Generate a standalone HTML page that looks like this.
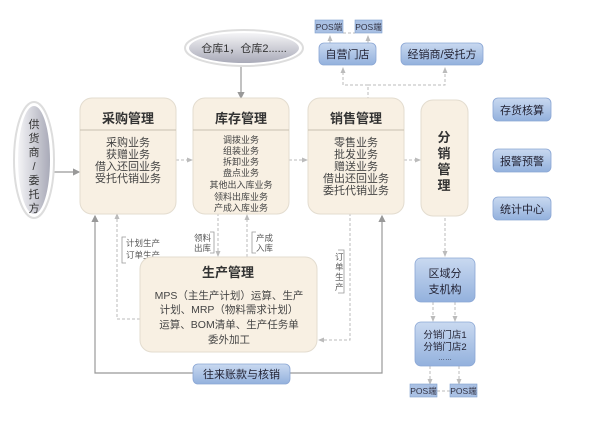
<!DOCTYPE html>
<html><head><meta charset="utf-8"><style>
body{margin:0;background:#fff;}
svg text{font-family:"Liberation Sans","Noto Sans CJK SC",sans-serif;}
</style></head><body>
<svg width="600" height="437" viewBox="0 0 600 437" xmlns="http://www.w3.org/2000/svg">
<defs>
<linearGradient id="bl" x1="0" y1="0" x2="0" y2="1"><stop offset="0" stop-color="#c9d9f0"/><stop offset="1" stop-color="#93b1dd"/></linearGradient>
<linearGradient id="el" x1="0" y1="0" x2="0" y2="1"><stop offset="0" stop-color="#f4f4f6"/><stop offset="1" stop-color="#a9aab8"/></linearGradient>
<linearGradient id="el2" x1="0" y1="0" x2="1" y2="0"><stop offset="0" stop-color="#f4f4f6"/><stop offset="1" stop-color="#a9aab8"/></linearGradient>
<marker id="ar" markerWidth="6" markerHeight="6" refX="5" refY="3" orient="auto"><path d="M0,0 L6,3 L0,6 z" fill="#999"/></marker>
<marker id="ad" markerWidth="6" markerHeight="6" refX="5" refY="3" orient="auto"><path d="M0,0.5 L6,3 L0,5.5 z" fill="#bbb"/></marker>
</defs>
<g fill="none" stroke="#bbb" stroke-width="1" stroke-dasharray="3,2">
<!-- top connectors -->
<line x1="343" y1="33" x2="355" y2="33"/>
<polyline points="368,100 368,85 343,85 343,68" marker-end="url(#ad)"/>
<polyline points="368,85 445,85 445,68" marker-end="url(#ad)"/>
<line x1="330" y1="43" x2="330" y2="36" marker-end="url(#ad)"/>
<line x1="368" y1="43" x2="368" y2="36" marker-end="url(#ad)"/>
<!-- between boxes -->
<line x1="176" y1="160" x2="192" y2="160" marker-end="url(#ad)"/>
<line x1="289" y1="160" x2="307" y2="160" marker-end="url(#ad)"/>
<line x1="404" y1="160" x2="420" y2="160" marker-end="url(#ad)"/>
<!-- production -->
<polyline points="140,319 117,319 117,214" marker-end="url(#ad)"/>
<line x1="218" y1="213" x2="218" y2="256" marker-end="url(#ad)"/>
<line x1="247" y1="257" x2="247" y2="215" marker-end="url(#ad)"/>
<polyline points="350,213 350,340 319,340" marker-end="url(#ad)"/>
<!-- distribution -->
<line x1="445" y1="218" x2="445" y2="256" marker-end="url(#ad)"/>
<line x1="433" y1="302" x2="433" y2="321" marker-end="url(#ad)"/>
<line x1="455" y1="302" x2="455" y2="321" marker-end="url(#ad)"/>
<line x1="430" y1="366" x2="430" y2="384" marker-end="url(#ad)"/>
<line x1="459" y1="366" x2="459" y2="384" marker-end="url(#ad)"/>
<line x1="437" y1="391" x2="450" y2="391"/>
</g>
<g fill="none" stroke="#999" stroke-width="1.2">
<line x1="241" y1="64" x2="241" y2="98" marker-end="url(#ar)"/>
<line x1="52" y1="172" x2="79" y2="172" marker-end="url(#ar)"/>
<polyline points="193,373 95,373 95,216" marker-end="url(#ar)"/>
<polyline points="290,373 382,373 382,216" marker-end="url(#ar)"/>
</g>
<!-- label brackets -->
<g fill="none" stroke="#999" stroke-width="0.8">
<polyline points="126,237 122,237 122,263 126,263"/>
<polyline points="210,232 214,232 214,253 210,253"/>
<polyline points="256,232 252,232 252,253 256,253"/>
<polyline points="338,250 344,250 344,293 338,293"/>
</g>
<g font-size="8.5" fill="#555">
<text x="126" y="246">计划生产</text><text x="126" y="258">订单生产</text>
<text x="194" y="241">领料</text><text x="194" y="251">出库</text>
<text x="256" y="241">产成</text><text x="256" y="251">入库</text>
<text x="335" y="260">订</text><text x="335" y="270">单</text><text x="335" y="280">生</text><text x="335" y="290">产</text>
</g>
<!-- POS top -->
<rect x="315" y="20" width="28" height="13" fill="#a9c0e3" stroke="#7f9dcc" stroke-width="0.6"/>
<rect x="355" y="20" width="27" height="13" fill="#a9c0e3" stroke="#7f9dcc" stroke-width="0.6"/>
<text x="329" y="30" font-size="8.5" text-anchor="middle" fill="#334">POS端</text>
<text x="368.5" y="30" font-size="8.5" text-anchor="middle" fill="#334">POS端</text>
<!-- warehouse ellipse -->
<ellipse cx="244" cy="48" rx="59" ry="18" fill="#fff" stroke="#ddd" stroke-width="2"/>
<ellipse cx="244" cy="48" rx="55" ry="15" fill="url(#el)"/>
<text x="244" y="52" font-size="11" text-anchor="middle" fill="#333">仓库1，仓库2......</text>
<!-- blue boxes -->
<g fill="url(#bl)" stroke="#8aa6d4" stroke-width="0.8">
<rect x="319" y="43" width="57" height="22" rx="5"/>
<rect x="401" y="43" width="82" height="22" rx="5"/>
<rect x="493" y="98" width="58" height="23" rx="5"/>
<rect x="493" y="149" width="58" height="23" rx="5"/>
<rect x="493" y="197" width="58" height="23" rx="5"/>
<rect x="193" y="364" width="97" height="20" rx="5"/>
<rect x="415" y="258" width="60" height="44" rx="6"/>
<rect x="415" y="322" width="60" height="44" rx="6"/>
</g>
<g font-size="11" text-anchor="middle" fill="#223">
<text x="347.5" y="58">自营门店</text>
<text x="442" y="58">经销商/受托方</text>
<text x="522" y="114">存货核算</text>
<text x="522" y="165">报警预警</text>
<text x="522" y="213">统计中心</text>
<text x="241.5" y="378">往来账款与核销</text>
<text x="445" y="277">区域分</text>
<text x="445" y="293">支机构</text>
</g>
<g font-size="9.5" text-anchor="middle" fill="#223">
<text x="445" y="338">分销门店1</text>
<text x="445" y="350">分销门店2</text>
<text x="445" y="360" font-size="7">……</text>
</g>
<rect x="410" y="384" width="27" height="13" fill="#a9c0e3" stroke="#7f9dcc" stroke-width="0.6"/>
<rect x="450" y="384" width="27" height="13" fill="#a9c0e3" stroke="#7f9dcc" stroke-width="0.6"/>
<text x="423.5" y="394" font-size="8.5" text-anchor="middle" fill="#334">POS端</text>
<text x="463.5" y="394" font-size="8.5" text-anchor="middle" fill="#334">POS端</text>
<!-- supplier ellipse -->
<ellipse cx="34" cy="160" rx="20" ry="58" fill="#fff" stroke="#ddd" stroke-width="2"/>
<ellipse cx="34" cy="160" rx="16" ry="54" fill="url(#el2)"/>
<g font-size="11" text-anchor="middle" fill="#333">
<text x="34" y="128">供</text><text x="34" y="142">货</text><text x="34" y="156">商</text><text x="34" y="170">/</text><text x="34" y="184">委</text><text x="34" y="198">托</text><text x="34" y="212">方</text>
</g>
<!-- main cream boxes -->
<g fill="#f8f0e3" stroke="#e3dccf" stroke-width="1">
<rect x="80" y="98" width="96" height="116" rx="12"/>
<rect x="193" y="98" width="96" height="116" rx="12"/>
<rect x="308" y="98" width="96" height="116" rx="12"/>
<rect x="421" y="100" width="47" height="116" rx="12"/>
<rect x="140" y="257" width="177" height="95" rx="12"/>
</g>
<g stroke="#c9c0b0" stroke-width="1">
<line x1="80" y1="130" x2="176" y2="130"/>
<line x1="193" y1="130" x2="289" y2="130"/>
<line x1="308" y1="130" x2="404" y2="130"/>
</g>
<g font-size="13" font-weight="bold" text-anchor="middle" fill="#333">
<text x="128" y="123">采购管理</text>
<text x="241" y="123">库存管理</text>
<text x="356" y="123">销售管理</text>
<text x="228" y="277">生产管理</text>
<text x="444" y="142">分</text><text x="444" y="158">销</text><text x="444" y="174">管</text><text x="444" y="190">理</text>
</g>
<g font-size="11" text-anchor="middle" fill="#444">
<text x="128" y="146">采购业务</text><text x="128" y="158">获赠业务</text><text x="128" y="170">借入还回业务</text><text x="128" y="182">受托代销业务</text>
<text x="356" y="146">零售业务</text><text x="356" y="158">批发业务</text><text x="356" y="170">赠送业务</text><text x="356" y="182">借出还回业务</text><text x="356" y="194">委托代销业务</text>
</g>
<g font-size="9" text-anchor="middle" fill="#444">
<text x="241" y="143">调拨业务</text><text x="241" y="154">组装业务</text><text x="241" y="165">拆卸业务</text><text x="241" y="176">盘点业务</text><text x="241" y="188">其他出入库业务</text><text x="241" y="200">领料出库业务</text><text x="241" y="211">产成入库业务</text>
</g>
<g font-size="10.5" text-anchor="middle" fill="#444">
<text x="229" y="299">MPS（主生产计划）运算、生产</text>
<text x="229" y="313">计划、MRP（物料需求计划）</text>
<text x="229" y="328">运算、BOM清单、生产任务单</text>
<text x="229" y="343">委外加工</text>
</g>
</svg>
</body></html>
